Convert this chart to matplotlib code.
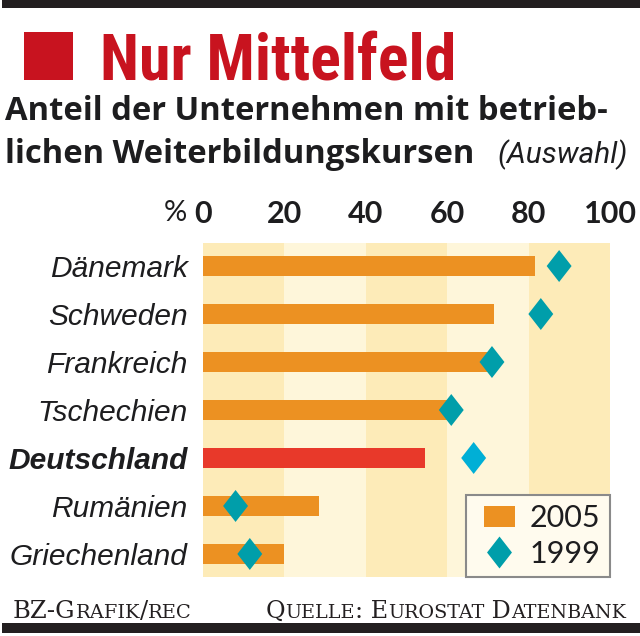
import matplotlib
matplotlib.use("Agg")
import matplotlib.pyplot as plt
from matplotlib import font_manager
from matplotlib.lines import Line2D
from matplotlib.patches import Patch, Rectangle
from matplotlib.path import Path
from matplotlib.offsetbox import TextArea, HPacker, AnchoredOffsetbox
from matplotlib.legend_handler import HandlerPatch

# Daten (Anteil in %)
countries = ["Dänemark", "Schweden", "Frankreich", "Tschechien",
             "Deutschland", "Rumänien", "Griechenland"]
share_2005 = [81.5, 71.5, 70, 62, 54.5, 28.5, 20]
share_1999 = [87.5, 83, 71, 61, 66.5, 8, 11.5]
highlight = "Deutschland"
x_ticks = [0, 20, 40, 60, 80, 100]

ORANGE = "#ec9122"
RED = "#e8392a"
TEAL = "#009eaa"
CYAN = "#00afd6"
BAND_DARK = "#fdebb8"
BAND_LIGHT = "#fef6da"
INK = "#1d1d1f"
TITLE_RED = "#c8131f"

W, H = 640, 636
fig = plt.figure(figsize=(W / 100, H / 100), dpi=100, facecolor="white")


def fx(px):
    return px / W


def fy(py):
    return 1 - py / H


# schmale Schrift für die Überschrift suchen
installed = font_manager.fontManager.ttflist
names = {f.name for f in installed}
title_font = dict(family="Roboto", fontstretch="normal", fontsize=40)
for cand in ["Roboto Condensed", "Liberation Sans Narrow", "Open Sans Condensed"]:
    if cand in names:
        title_font = dict(family=cand, fontstretch="normal", fontsize=46)
        break
else:
    if any(f.name == "DejaVu Sans" and f.stretch == "condensed" for f in installed):
        title_font = dict(family="DejaVu Sans", fontstretch="condensed", fontsize=46)

# Balken oben / unten
fig.add_artist(Rectangle((fx(2), fy(8)), 1, 8 / H, transform=fig.transFigure,
                         facecolor="#231f20", edgecolor="none"))
fig.add_artist(Rectangle((fx(2), fy(633)), 1, 10 / H, transform=fig.transFigure,
                         facecolor="#231f20", edgecolor="none"))

# Titel
fig.add_artist(Rectangle((fx(24), fy(80)), 49 / W, 48 / H, transform=fig.transFigure,
                         facecolor=TITLE_RED, edgecolor="none"))
fig.text(fx(100), fy(79), "Nur Mittelfeld", color=TITLE_RED, fontweight="bold",
         va="baseline", **title_font)
fig.text(fx(5), fy(120), "Anteil der Unternehmen mit betrieb-", color=INK, fontsize=23.6,
         fontweight="bold", family="Open Sans", va="baseline")
fig.text(fx(5), fy(163), "lichen Weiterbildungskursen", color=INK, fontsize=23.6,
         fontweight="bold", family="Open Sans", va="baseline")
fig.text(fx(628), fy(163), "(Auswahl)", color=INK, fontsize=21.5, fontstyle="italic",
         family="Roboto", va="baseline", ha="right")

# Diagramm
ax = fig.add_axes([fx(203), fy(577), (610 - 203) / W, (577 - 243) / H])
for i in range(len(x_ticks) - 1):
    ax.axvspan(x_ticks[i], x_ticks[i + 1], color=BAND_DARK if i % 2 == 0 else BAND_LIGHT,
               linewidth=0, zorder=0)

rows = list(range(len(countries)))
bar_colors = [RED if c == highlight else ORANGE for c in countries]
dia_colors = [CYAN if c == highlight else TEAL for c in countries]
ax.barh(rows, share_2005, height=0.41, color=bar_colors, zorder=2)

diamond = Path([(0, 1), (0.78, 0), (0, -1), (-0.78, 0), (0, 1)],
               [Path.MOVETO, Path.LINETO, Path.LINETO, Path.LINETO, Path.CLOSEPOLY])
ax.scatter(share_1999, rows, marker=diamond, s=23 ** 2, c=dia_colors,
           linewidths=0, zorder=3)

ax.set_xlim(0, 100)
ax.set_ylim(len(countries) - 0.52, -0.48)
for side in ax.spines.values():
    side.set_visible(False)

ax.xaxis.tick_top()
ax.set_xticks(x_ticks)
ax.set_xticklabels([str(t) for t in x_ticks], fontsize=22, fontweight="bold",
                   family="Lato", color=INK)
ax.tick_params(axis="x", length=0, pad=11)

ax.set_yticks(rows)
ax.set_yticklabels(countries, fontsize=21.5, fontstyle="italic", family="Liberation Sans",
                   color=INK)
for lab in ax.get_yticklabels():
    if lab.get_text() == highlight:
        lab.set_fontweight("bold")
ax.tick_params(axis="y", length=0, pad=11)

fig.text(fx(175), fy(213), "%", fontsize=21, family="Lato", color=INK,
         ha="center", va="center")


# Legende
def narrow_patch(legend, orig_handle, xdescent, ydescent, width, height, fontsize):
    w = fontsize * 1.0
    return Rectangle((-xdescent + (width - w) / 2, -ydescent), w, height)


handles = [Patch(facecolor=ORANGE, edgecolor="none"),
           Line2D([], [], marker=diamond, markersize=23, color=TEAL, linestyle="none",
                  markeredgewidth=0)]
leg = ax.legend(handles, ["2005", "1999"], loc="lower right", bbox_to_anchor=(1, 0),
                borderaxespad=0, frameon=True, fancybox=False, framealpha=1,
                facecolor="#fffbee", edgecolor="#8a8a8a",
                prop=dict(family="Lato", weight="normal", size=22),
                handlelength=1.6, handleheight=0.7, handletextpad=0.2,
                labelspacing=0.25, borderpad=0.3,
                handler_map={Patch: HandlerPatch(patch_func=narrow_patch)})
leg.get_frame().set_linewidth(1.5)
for t in leg.get_texts():
    t.set_color(INK)


# Fusszeile in Kapitälchen
def small_caps(text, x, y, size, loc):
    runs = []
    for ch in text:
        key = "small" if ch.islower() else "big"
        if runs and runs[-1][0] == key:
            runs[-1][1] += ch.upper()
        else:
            runs.append([key, ch.upper()])
    parts = [TextArea(s, textprops=dict(fontsize=size if k == "big" else size * 0.8,
                                        family="DejaVu Serif", color="#231f20"))
             for k, s in runs]
    box = HPacker(children=parts, align="baseline", pad=0, sep=0)
    fig.add_artist(AnchoredOffsetbox(loc=loc, child=box, pad=0, borderpad=0, frameon=False,
                                     bbox_to_anchor=(x, y), bbox_transform=fig.transFigure))


small_caps("BZ-Grafik/rec", fx(13), fy(623), 17.5, "lower left")
small_caps("Quelle: Eurostat Datenbank", fx(626), fy(623), 17.2, "lower right")

fig.savefig("out.png", dpi=100, facecolor="white")
